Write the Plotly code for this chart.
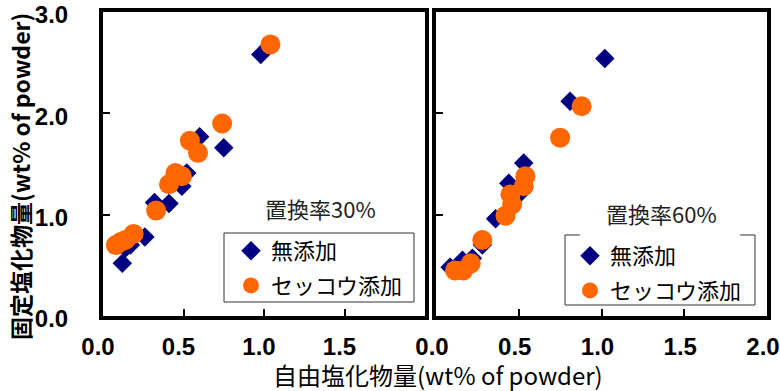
import plotly.graph_objects as go

# 置換率30% : free chloride (x) vs fixed chloride (y), wt% of powder
free_30_plain = [0.12, 0.14, 0.17, 0.26, 0.32, 0.41, 0.49, 0.52, 0.60, 0.75, 0.98]
fixed_30_plain = [0.52, 0.67, 0.70, 0.78, 1.12, 1.11, 1.28, 1.41, 1.77, 1.66, 2.58]
free_30_gyp = [0.08, 0.11, 0.14, 0.19, 0.33, 0.41, 0.45, 0.49, 0.54, 0.59, 0.74, 1.04]
fixed_30_gyp = [0.70, 0.73, 0.75, 0.81, 1.04, 1.30, 1.41, 1.38, 1.73, 1.61, 1.90, 2.68]

# 置換率60%
free_60_plain = [0.085, 0.16, 0.22, 0.28, 0.36, 0.44, 0.50, 0.53, 0.81, 1.02]
fixed_60_plain = [0.48, 0.55, 0.57, 0.70, 0.96, 1.31, 1.20, 1.51, 2.12, 2.54]
free_60_gyp = [0.115, 0.165, 0.21, 0.28, 0.42, 0.46, 0.45, 0.53, 0.54, 0.75, 0.88]
fixed_60_gyp = [0.45, 0.45, 0.52, 0.75, 0.99, 1.10, 1.20, 1.28, 1.38, 1.76, 2.07]

series_names = ["無添加", "セッコウ添加"]
panel_labels = ["置換率30%", "置換率60%"]
x_title = "自由塩化物量(wt% of powder)"
y_title = "固定塩化物量(wt% of powder)"

NAVY = "#000080"
ORANGE = "#FF6600"
CJK = "Noto Sans CJK JP"
NUM = "Liberation Sans"

W, H = 780, 391
ML, MR, MT, MB = 103, 13, 12, 75
PW, PH = W - ML - MR, H - MT - MB


def px(x):
    return (x - ML) / PW


def py(y):
    return (H - MB - y) / PH


fig = go.Figure()

diamond = dict(symbol="diamond", size=15, color=NAVY, line=dict(width=0))
circle = dict(symbol="circle", size=20, color=ORANGE, line=dict(width=0))

fig.add_trace(go.Scatter(x=free_30_plain, y=fixed_30_plain, mode="markers",
                         marker=diamond, name=series_names[0],
                         xaxis="x", yaxis="y", legend="legend", legendgroup="a"))
fig.add_trace(go.Scatter(x=free_30_gyp, y=fixed_30_gyp, mode="markers",
                         marker=circle, name=series_names[1],
                         xaxis="x", yaxis="y", legend="legend", legendgroup="b"))
fig.add_trace(go.Scatter(x=free_60_plain, y=fixed_60_plain, mode="markers",
                         marker=diamond, name=series_names[0],
                         xaxis="x2", yaxis="y2", legend="legend2", legendgroup="c"))
fig.add_trace(go.Scatter(x=free_60_gyp, y=fixed_60_gyp, mode="markers",
                         marker=circle, name=series_names[1],
                         xaxis="x2", yaxis="y2", legend="legend2", legendgroup="d"))

axis_common = dict(showline=True, linewidth=4, linecolor="black", mirror=True,
                   showgrid=False, zeroline=False, ticks="inside", ticklen=7,
                   tickwidth=1.5, tickcolor="black", automargin=False,
                   ticklabeloverflow="allow",
                   tickfont=dict(family=NUM, size=24, color="black", weight="bold"))

legend_common = dict(xanchor="left", yanchor="top", bgcolor="rgba(0,0,0,0)",
                     borderwidth=0, font=dict(family=CJK, size=22, color="black"),
                     tracegroupgap=3, itemwidth=30)

fig.update_layout(
    width=W, height=H,
    margin=dict(l=ML, r=MR, t=MT, b=MB, autoexpand=False),
    paper_bgcolor="white", plot_bgcolor="white",
    xaxis=dict(axis_common, domain=[0, 322 / PW], range=[0, 2],
               tickvals=[0, 0.5, 1.0, 1.5], tickformat=".1f",
               ticklabelstandoff=6, ticklabelshift=-5, anchor="y"),
    xaxis2=dict(axis_common, domain=[333 / PW, 1], range=[0, 2],
                tickvals=[0, 0.5, 1.0, 1.5, 2.0], tickformat=".1f",
                ticklabelstandoff=6, ticklabelshift=-4, anchor="y2"),
    yaxis=dict(axis_common, range=[0, 3], tickvals=[0, 1, 2, 3],
               tickformat=".1f", ticklabelstandoff=26, ticklabelshift=3,
               anchor="x"),
    yaxis2=dict(axis_common, range=[0, 3], tickvals=[0, 1, 2, 3],
                showticklabels=False, anchor="x2"),
    legend=dict(legend_common, x=px(231), y=py(230)),
    legend2=dict(legend_common, x=px(570), y=py(235)),
    showlegend=True,
)

annotations = [
    dict(text=panel_labels[0], x=px(320), y=py(208), xref="paper", yref="paper",
         xanchor="center", yanchor="middle", showarrow=False,
         font=dict(family=CJK, size=22, color="#222")),
    dict(text=panel_labels[1], x=px(661), y=py(213), xref="paper", yref="paper",
         xanchor="center", yanchor="middle", showarrow=False,
         font=dict(family=CJK, size=22, color="#222")),
    dict(text=x_title, x=px(438), y=py(374), xref="paper", yref="paper",
         xanchor="center", yanchor="middle", showarrow=False,
         font=dict(family=CJK, size=24, color="black")),
    dict(text="<b>" + y_title + "</b>", x=px(20), y=py(177), xref="paper",
         yref="paper", xanchor="center", yanchor="middle", textangle=-90,
         showarrow=False, font=dict(family=CJK, size=23, color="black")),
]
fig.update_layout(annotations=annotations)

# legend frames: closed box on the left, open-topped box on the right
lc = dict(color="#333", width=1)
frame = [
    (224, 233, 414, 233), (224, 302, 414, 302),
    (224, 233, 224, 302), (414, 233, 414, 302),
    (565, 235, 565, 305), (755, 235, 755, 305), (565, 305, 755, 305),
    (565, 235, 580, 235), (740, 235, 755, 235),
]
fig.update_layout(shapes=[
    dict(type="line", xref="paper", yref="paper", x0=px(a), y0=py(b),
         x1=px(c), y1=py(d), line=lc) for a, b, c, d in frame
])

fig.write_html("out.html")
